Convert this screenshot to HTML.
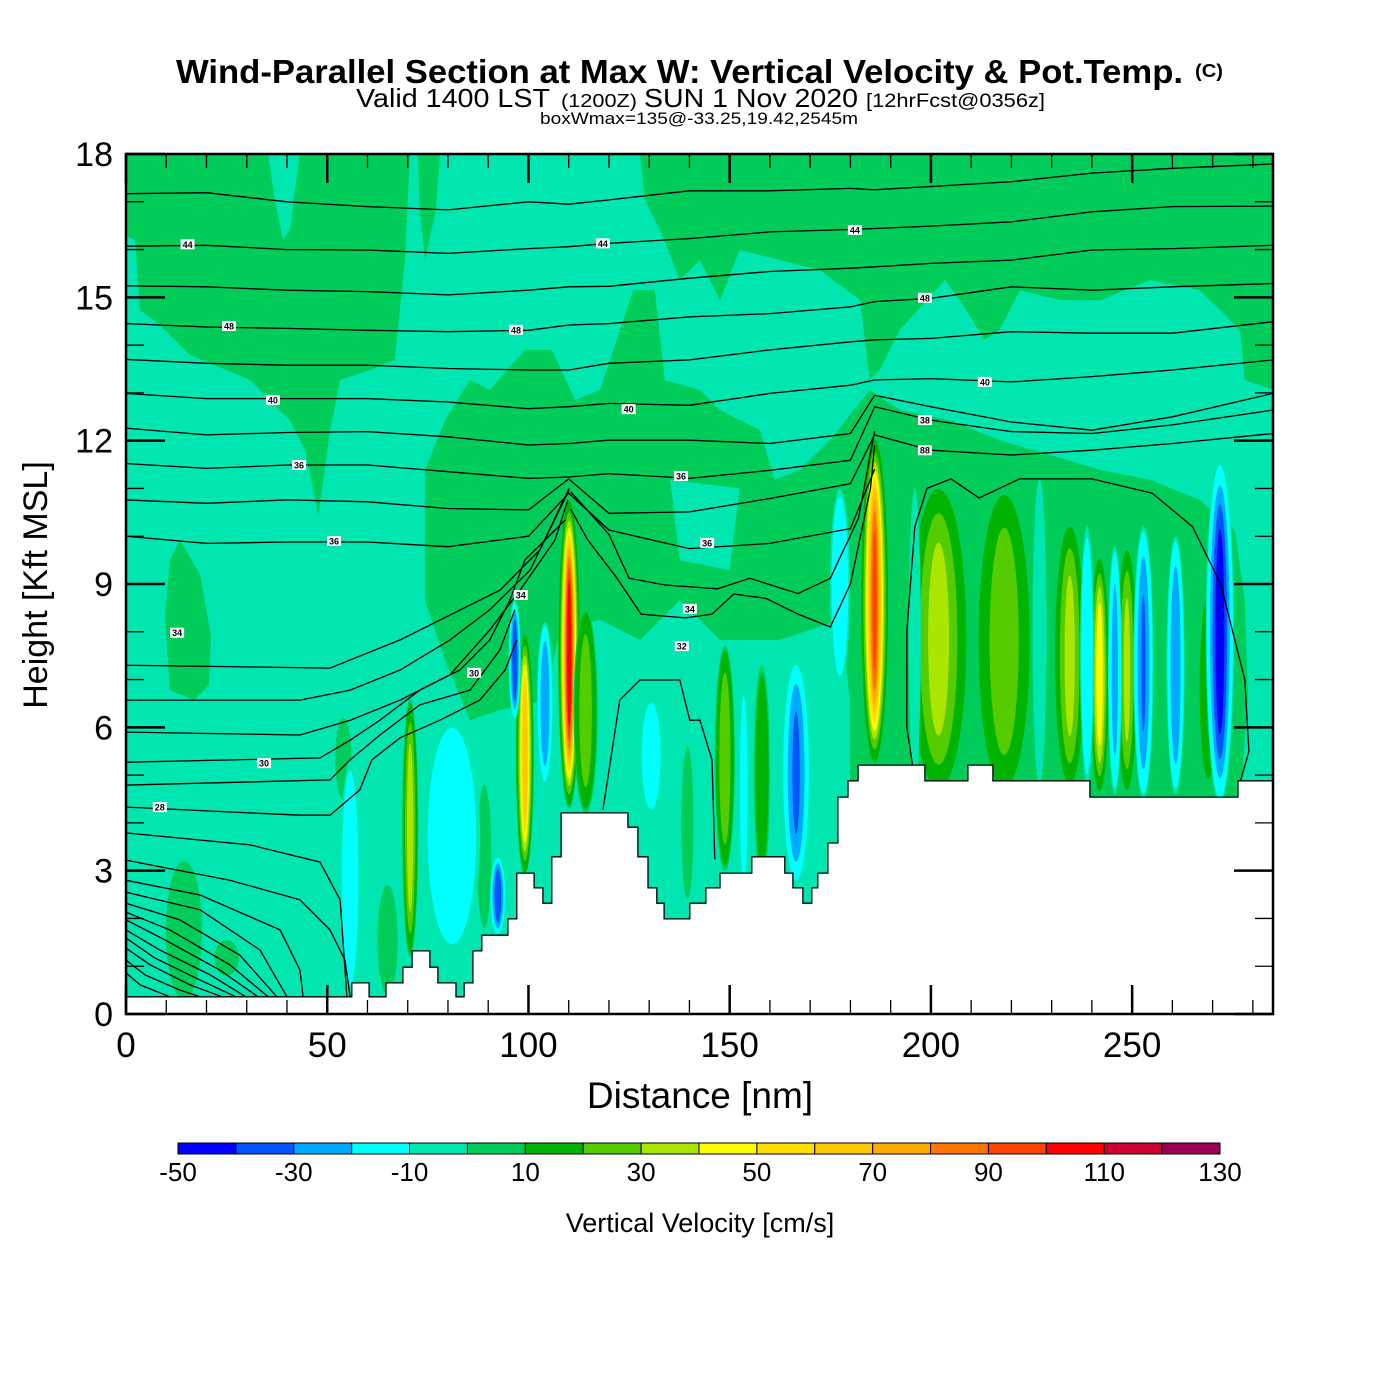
<!DOCTYPE html>
<html><head><meta charset="utf-8"><style>
html,body{margin:0;padding:0;background:#fff}
svg{display:block}
text{font-family:"Liberation Sans",Arial,sans-serif;fill:#000}
</style></head><body>
<svg id="chart" width="1400" height="1400" viewBox="0 0 1400 1400" xmlns="http://www.w3.org/2000/svg">
<rect x="0" y="0" width="1400" height="1400" fill="#fff"/>
<text x="176" y="83" font-size="33" font-weight="bold" textLength="1007" lengthAdjust="spacingAndGlyphs">Wind-Parallel Section at Max W: Vertical Velocity &amp; Pot.Temp.</text>
<text x="1195" y="77" font-size="18" font-weight="bold" textLength="28" lengthAdjust="spacingAndGlyphs">(C)</text>
<text x="356" y="107" font-size="26" textLength="194" lengthAdjust="spacingAndGlyphs">Valid 1400 LST</text>
<text x="561" y="107" font-size="18" textLength="76" lengthAdjust="spacingAndGlyphs">(1200Z)</text>
<text x="644" y="107" font-size="26" textLength="214" lengthAdjust="spacingAndGlyphs">SUN 1 Nov 2020</text>
<text x="866" y="107" font-size="19" textLength="179" lengthAdjust="spacingAndGlyphs">[12hrFcst@0356z]</text>
<text x="540" y="124" font-size="17" textLength="318" lengthAdjust="spacingAndGlyphs">boxWmax=135@-33.25,19.42,2545m</text>
<clipPath id="plotClip"><rect x="126" y="154" width="1147" height="860"/></clipPath>
<g id="plot" clip-path="url(#plotClip)"></g>
<g id="axes"></g>
<g id="cbar"></g>
<text x="700" y="1108" font-size="37" text-anchor="middle">Distance [nm]</text>
<text x="0" y="0" font-size="34" text-anchor="middle" transform="translate(47,585) rotate(-90)">Height [Kft MSL]</text>
<text x="700" y="1232" font-size="27" text-anchor="middle">Vertical Velocity [cm/s]</text>
</svg>
<script>
// ---------- data ----------
const xTicks = [0,50,100,150,200,250];
const yTicks = [0,3,6,9,12,15,18];
const cbarLevels = [-50,-30,-10,10,30,50,70,90,110,130];
const binColors = ['#0000ff','#0055ff','#00aaff','#00ffff','#00e6b0','#00cc5a','#00b300','#55cc00','#aae600','#ffff00','#ffdd00','#ffc800','#ffaa00','#ff7700','#ff4400','#ff0000','#cc0033','#990055'];
// terrain steps: start distance (nm) and height (kft)
const terrainD = [0,56.1,60.4,64.6,68.8,71.1,75.5,77.5,82.0,84.0,86.2,88.4,94.9,97.1,101.4,103.6,105.8,108.1,124.7,127.2,129.7,131.9,133.7,140.1,144.1,147.6,155.5,163.7,165.7,168.2,170.4,171.9,174.4,176.9,179.4,181.9,198.5,209.2,215.4,239.5,276.3];
const terrainH = [0.36,0.65,0.36,0.65,0.98,1.32,0.98,0.65,0.36,0.65,1.32,1.65,1.99,2.95,2.64,2.32,3.29,4.21,3.91,3.29,2.64,2.32,1.99,2.32,2.64,2.95,3.29,2.95,2.64,2.32,2.64,2.95,3.58,4.54,4.88,5.21,4.88,5.21,4.88,4.54,4.88];
// vertical-velocity cells
const cellD    = [70.6,99.1,110.1,114.2,148.8,158.0,186.0,201.9,218.2,234.5,241.9,248.7,268.9,54.0,14.4,25.0,65.0,89.0,139.5, 55.7,81.0,92.4,96.6,104.1,130.5,153.5,166.5,177.4,238.8,245.7,252.8,260.8,271.8,196.0,227.0];
const cellBot  = [1.2,2.9,4.3,4.2,3.0,2.8,5.2,4.6,4.6,4.7,4.6,4.6,4.7,4.5,0.3,0.8,0.4,1.8,2.4, 0.4,1.3,1.65,6.15,4.8,4.2,2.5,2.7,6.9,4.8,4.6,4.5,4.6,4.4,4.8,4.8];
const cellTop  = [6.6,8.0,10.8,8.5,7.7,7.3,12.1,11.1,11.0,10.3,9.6,9.8,9.0,6.2,3.2,1.55,2.7,4.8,5.6, 5.3,6.15,3.3,8.66,8.2,6.6,6.9,7.4,11.0,10.2,9.8,10.2,10.0,11.6,11.0,11.2];
const cellW    = [4,4.5,5.5,6,5,4,7,15,14,8,5,5.5,5.5,4,9,6,5,3.5,3, 5,14,4,3,4,5.5,2.5,7,5,3.5,3.5,5,4.5,7,3,3.5];
const cellPeak = [38,68,110,28,30,16,95,36,28,35,48,34,14,8,8,7,8,8,8, -16,-19,-40,-40,-30,-18,-14,-33,-16,-16,-25,-32,-30,-48,-6,-6];
// darker (0..10 cm/s) regions as [d,h] polygons
const darkRegions = [
 [[0,18],[70.6,18],[69.3,15.78],[66.8,13.69],[60.6,13.48],[53.2,13.27],[50.7,12.22],[47.8,10.44],[44.5,11.8],[40.7,12.43],[35.8,12.85],[30.8,13.27],[22.1,13.58],[15.9,13.79],[8.4,14.42],[3.5,14.73],[2.2,16.2],[0,16.3]],
 [[13.4,9.92],[18.4,9.19],[21.1,7.93],[20.6,6.88],[16.9,6.57],[10.9,6.78],[9.7,8.29],[10.9,9.5]],
 [[72.5,18],[78,18],[77,16.83],[74.3,15.78],[73,16.83]],
 [[127.7,18],[285,18],[285,13.06],[278,13.27],[276.8,14.32],[266.8,15.15],[254.4,15.36],[242,14.94],[232,14.94],[222.1,15.15],[217.1,14.32],[213.4,14.11],[207.2,14.94],[203.5,15.36],[192.3,14.32],[187.3,13.48],[184.8,13.27],[182.4,14.94],[172.4,15.57],[162.5,15.78],[152.5,15.99],[147.6,14.94],[142.6,15.78],[137.6,15.36],[132.7,16.41],[128.9,17.04]],
 [[74.3,11.39],[79.3,12.43],[85.5,13.27],[90.4,13.06],[99.1,13.9],[105.8,13.9],[111.6,12.85],[117.8,13.06],[126,15.15],[131.4,15.15],[133.9,13.27],[142.6,13.06],[147.6,12.64],[157.5,12.22],[161.2,11.18],[167.5,11.39],[174.9,12.01],[179.9,12.54],[184.8,13.06],[192.3,12.64],[204.7,12.43],[217.1,12.01],[229.6,11.7],[242,11.39],[254.4,11.18],[266.8,10.76],[275.5,10.13],[278,8.66],[278.8,6.57],[276.8,4.48],[179.9,4.48],[179.9,6.57],[177.4,8.25],[162.5,7.83],[147.6,7.83],[137.6,8.66],[127.7,7.83],[117.8,8.25],[107.8,8.04],[104.1,6.57],[92.9,6.36],[85.5,6.15],[79.3,7.41],[74.3,8.66]]
];
const lightRegions = [
 [[35.3,18],[43.2,18],[40.7,16.41],[39,16.2],[37,17.04]],
 [[135.2,11.18],[152.5,11.0],[150,9.29],[137.6,9.5]]
];
// potential-temperature contours on a shared distance grid
const dGrid = [0,20,40,60,80,100,110,120,140,160,180,186,200,220,240,260,285];
const thetaUpper = [
 [17.17,17.19,17.0,16.9,16.83,17.0,16.95,17.04,17.23,17.23,17.28,17.25,17.32,17.42,17.6,17.7,17.79],
 [16.07,16.09,16.0,15.99,15.92,16.02,16.06,16.13,16.23,16.37,16.42,16.44,16.49,16.58,16.79,16.9,16.91],
 [15.24,15.22,15.15,15.12,15.05,15.15,15.22,15.23,15.40,15.54,15.61,15.64,15.71,15.78,15.99,16.02,16.09],
 [14.45,14.38,14.35,14.31,14.28,14.31,14.42,14.45,14.59,14.66,14.80,14.91,14.98,15.22,15.15,15.22,15.29],
 [13.70,13.62,13.58,13.58,13.51,13.48,13.48,13.62,13.69,13.90,14.07,14.11,14.14,14.28,14.25,14.25,14.49],
 [12.99,12.88,12.88,12.88,12.81,12.67,12.71,12.78,12.74,12.99,13.16,13.27,13.30,13.23,13.34,13.48,13.69],
 [12.26,12.12,12.17,12.19,12.08,11.91,11.94,12.01,12.01,11.94,12.15,12.95,12.71,12.39,12.22,12.50,12.99],
 [11.52,11.42,11.49,11.49,11.35,11.21,11.24,11.31,11.21,11.38,11.59,12.71,12.43,12.19,12.15,12.33,12.64],
 [10.76,10.69,10.76,10.72,10.58,10.55,11.2,10.48,10.51,10.79,11.10,12.12,11.80,11.70,11.80,11.94,12.15],
 [10.0,9.85,9.88,9.88,9.78,10.0,10.9,10.13,9.74,9.85,10.16,11.4]
];
const thetaLower = [
 [[0,3.22],[25.8,2.8],[43.2,2.39],[50.7,1.76],[54.4,1.13],[55.7,0.36]],
 [[0,2.8],[18.4,2.49],[38.3,1.76],[43.2,0.92],[44,0.36]],
 [[0,2.55],[18.4,2.18],[33.3,1.34],[40,0.36]],
 [[0,2.32],[13.4,1.97],[28.3,1.23],[37.5,0.36]],
 [[0,2.13],[10.9,1.76],[25.8,1.03],[35.3,0.36]],
 [[0,1.97],[9.7,1.55],[23.3,0.92],[32.8,0.36]],
 [[0,1.76],[8.4,1.34],[20.9,0.82],[29.8,0.36]],
 [[0,1.59],[7.2,1.17],[18.4,0.71],[27.3,0.36]],
 [[0,1.38],[6,1.03],[15.9,0.61],[23.9,0.36]],
 [[0,1.13],[4.7,0.82],[13.4,0.5],[18.4,0.36]],
 [[0,0.86],[3.5,0.61],[10.9,0.36]],
 [[0,3.79],[30.8,3.54],[48.2,3.18],[53.2,2.39],[54.9,0.36]],
 [[0,4.33],[43.2,4.16],[50.7,4.16],[58.1,4.69],[61.1,5.32],[68.1,5.78],[78,6.15],[87.9,6.57],[94.2,7.2],[97.1,7.83]],
 [[0,4.79],[50.7,4.9],[55.7,5.32],[63.1,5.84],[73,6.47],[85.5,6.78],[92.9,7.62],[96.6,8.46]],
 [[0,5.27],[48.2,5.36],[55.7,5.73],[63.1,6.15],[73,6.78],[83,7.2],[90.4,7.83],[95.4,8.66],[99.1,9.5],[104.1,9.92],[109.1,10.34]],
 [[0,5.9],[43.2,5.84],[55.7,6.15],[68.1,6.57],[80.5,7.1],[90.4,8.04],[97.9,8.87],[106.6,9.92],[109.8,10.76]],
 [[0,6.57],[43.2,6.57],[55.7,6.78],[68.1,7.2],[80.5,7.83],[90.4,8.46],[100.4,9.29],[110.1,10.97]],
 [[0,7.3],[50.7,7.24],[68.1,7.83],[80.5,8.35],[92.9,8.87],[102.8,9.71],[110.1,11.0]],
 [[110.5,10.93],[120,10.04],[125,9.12],[134,8.98],[147,8.9],[155,9.12],[167,8.8],[175,9.12],[182,10.38],[186,12.2]],
 [[110.5,10.57],[114.6,9.94],[122,9.12],[128,8.37],[139,8.29],[145.6,8.37],[151,8.79],[159,8.7],[167,8.37],[175,8.1],[180,9.0],[185,11.0],[186,11.9]],
 [[196,4.9],[194,6.0],[194,8.0],[196,10.2],[199,11.0],[205,11.2],[212,10.8],[222,11.2],[240,11.2],[255,10.9],[265,10.2],[272,9.0],[278,7.0],[279,5.5],[277,4.9]],
 [[118.5,4.27],[122.7,6.57],[127.7,6.99],[137.6,6.99],[140.1,6.15],[142.6,6.15],[145.6,5.32],[146.3,3.24]]
];
const labelText = ['44','44','44','48','48','48','40','40','40','36','36','38','88','36','36','34','34','34','32','30','30','28'];
const labelD = [15.3,118.5,181.1,25.6,96.9,198.5,36.5,124.9,213.4,43,137.9,198.5,198.5,51.7,144.4,12.7,98.1,140.1,138.1,86.5,34.3,8.4];
const labelH = [16.11,16.13,16.41,14.4,14.32,14.99,12.85,12.66,13.23,11.49,11.26,12.43,11.8,9.9,9.86,7.98,8.77,8.48,7.7,7.14,5.25,4.33];

// ---------- scales ----------
const NS='http://www.w3.org/2000/svg';
const X0=126,X1=1273,Y0=1014,Y1=154,DMAX=285,HMAX=18;
function xs(d){return X0+d*(X1-X0)/DMAX;}
function ys(h){return Y0-h*(Y0-Y1)/HMAX;}
function mk(tag,attrs,parent){const e=document.createElementNS(NS,tag);for(const k in attrs)e.setAttribute(k,attrs[k]);parent.appendChild(e);return e;}
const plot=document.getElementById('plot');
const axes=document.getElementById('axes');
const cbar=document.getElementById('cbar');

let e=mk('rect',{x:X0,y:Y1,width:X1-X0,height:Y0-Y1,fill:'#00e6b0'},plot);



function polyPts(poly){return poly.map(p=>xs(p[0]).toFixed(1)+','+ys(p[1]).toFixed(1)).join(' ');}
darkRegions.forEach((poly,i)=>{
  const p=mk('polygon',{points:polyPts(poly),fill:'#00cc5a'},plot);
  
  
});
lightRegions.forEach((poly,i)=>{
  const p=mk('polygon',{points:polyPts(poly),fill:'#00e6b0'},plot);
  
  
});

// cells: nested ellipses for each colour level (tall gaussian-like columns)
cellD.forEach((d,i)=>{
  const peak=cellPeak[i];
  const cx=xs(d), cy=ys((cellBot[i]+cellTop[i])/2);
  const rx=(xs(cellW[i])-xs(0))/2, ry=(ys(cellBot[i])-ys(cellTop[i]))/2;
  const g=mk('g',{},plot);
  
  
  const sign=peak>0?1:-1, ref=8*sign;
  for(let L=0;Math.abs(L)<Math.abs(peak);L+=10*sign){
    let r=1;
    if(L!==0){ r=Math.abs(peak)>8?Math.sqrt(Math.log(peak/L)/Math.log(peak/ref)):0; r=Math.min(r,0.97); }
    const idx=peak>0?(L+50)/10:(L+40)/10;
    const el=mk('ellipse',{cx:cx,cy:cy,rx:rx*r,ry:ry*Math.pow(r,0.45),fill:binColors[idx]},g);
    
    
  }
});

// contour lines
const cg=mk('g',{fill:'none',stroke:'#000','stroke-width':1.3},plot);


thetaUpper.forEach((row,i)=>{
  const pts=row.map((h,j)=>xs(dGrid[j]).toFixed(1)+','+ys(h).toFixed(1)).join(' ');
  const l=mk('polyline',{points:pts},cg);
  
  
});
thetaLower.forEach((line,i)=>{
  const l=mk('polyline',{points:polyPts(line)},cg);
  
  
});
labelText.forEach((t,i)=>{
  const x=xs(labelD[i]),y=ys(labelH[i]);
  const r=mk('rect',{x:x-7,y:y-5,width:14,height:10,fill:'#fff'},plot);
  
  
  const tx=mk('text',{x:x,y:y+3.5,'font-size':9,'text-anchor':'middle','font-weight':'bold'},plot);
  tx.textContent=t;
  
  
});

// terrain (white below)
let tp='M'+X0+','+Y0;
terrainD.forEach((d,i)=>{
  const x0=xs(d), x1=xs(i+1<terrainD.length?terrainD[i+1]:DMAX), y=ys(terrainH[i]);
  tp+=' L'+x0.toFixed(1)+','+y.toFixed(1)+' L'+x1.toFixed(1)+','+y.toFixed(1);
});
tp+=' L'+X1+','+Y0+' Z';
e=mk('path',{d:tp,fill:'#fff',stroke:'#000','stroke-width':1.3},plot);



// axes: frame and ticks
e=mk('rect',{x:X0,y:Y1,width:X1-X0,height:Y0-Y1,fill:'none',stroke:'#000','stroke-width':2.5},axes);


for(let d=0;d<=DMAX;d+=10){
  const major=d%50===0, len=major?29:14, x=xs(d);
  e=mk('line',{x1:x,y1:Y0,x2:x,y2:Y0-len,stroke:'#000','stroke-width':major?2.5:1.3},axes);
  
  
  e=mk('line',{x1:x,y1:Y1,x2:x,y2:Y1+len,stroke:'#000','stroke-width':major?2.5:1.3},axes);
  
  
}
for(let h=0;h<=HMAX;h+=1){
  const major=h%3===0, len=major?39:18, y=ys(h);
  e=mk('line',{x1:X0,y1:y,x2:X0+len,y2:y,stroke:'#000','stroke-width':major?2.5:1.3},axes);
  
  
  e=mk('line',{x1:X1,y1:y,x2:X1-len,y2:y,stroke:'#000','stroke-width':major?2.5:1.3},axes);
  
  
}
xTicks.forEach(v=>{
  const t=mk('text',{x:xs(v),y:1057,'font-size':35,'text-anchor':'middle'},axes);
  t.textContent=v;
  
  
});
yTicks.forEach(v=>{
  const t=mk('text',{x:113,y:ys(v)+12,'font-size':34,'text-anchor':'end'},axes);
  t.textContent=v;
  
  
});

// colorbar
const CB0=178,CB1=1220,CBY=1143,CBH=11;
function cx(v){return CB0+(v+50)*(CB1-CB0)/180;}
binColors.forEach((c,i)=>{
  const v=-50+i*10;
  const r=mk('rect',{x:cx(v),y:CBY,width:cx(v+10)-cx(v),height:CBH,fill:c,stroke:'#000','stroke-width':1},cbar);
  
  
});
cbarLevels.forEach(v=>{
  const t=mk('text',{x:cx(v),y:1181,'font-size':26,'text-anchor':'middle'},cbar);
  t.textContent=v;
  
  
});
</script>
</body></html>
